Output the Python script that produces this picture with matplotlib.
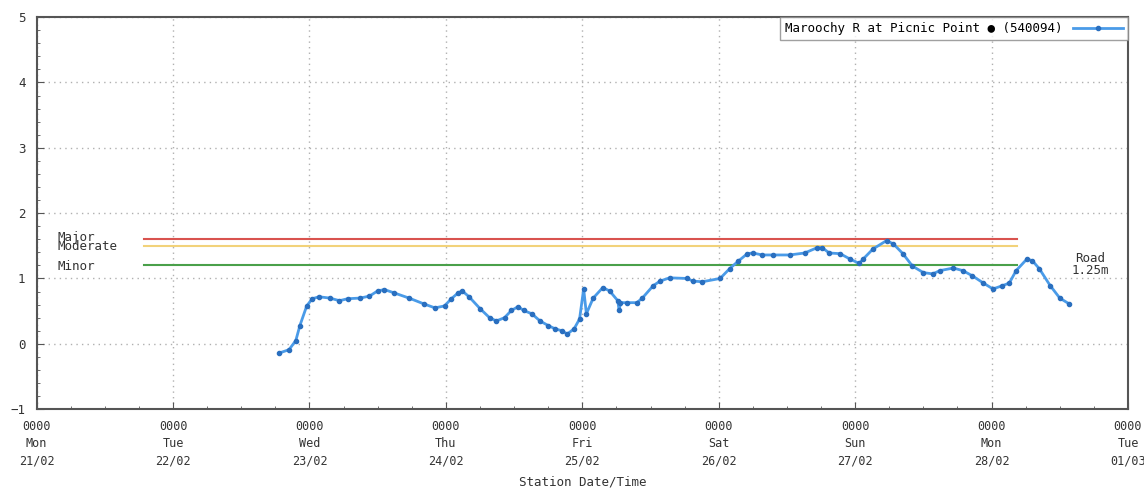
import matplotlib
matplotlib.use("Agg")
import matplotlib.pyplot as plt
from matplotlib.ticker import MultipleLocator

# days since 0000 Mon 21/02
days = [1.78, 1.85, 1.90, 1.93, 1.98, 2.02, 2.07, 2.15, 2.22, 2.28, 2.37, 2.44,
        2.50, 2.55, 2.62, 2.73, 2.84, 2.92, 2.99, 3.04, 3.09, 3.12, 3.17, 3.25,
        3.32, 3.37, 3.43, 3.48, 3.53, 3.57, 3.63, 3.69, 3.75, 3.80, 3.85, 3.89,
        3.94, 3.98, 4.01, 4.03, 4.08, 4.15, 4.20, 4.26, 4.27, 4.28, 4.33, 4.40,
        4.44, 4.52, 4.57, 4.64, 4.77, 4.81, 4.88, 5.01, 5.08, 5.14, 5.21, 5.25,
        5.32, 5.40, 5.52, 5.63, 5.72, 5.76, 5.81, 5.89, 5.96, 6.03, 6.06, 6.13,
        6.23, 6.28, 6.35, 6.42, 6.50, 6.57, 6.62, 6.72, 6.79, 6.86, 6.94, 7.01,
        7.08, 7.13, 7.18, 7.26, 7.30, 7.35, 7.43, 7.50, 7.57]
level = [-0.14, -0.09, 0.05, 0.28, 0.58, 0.69, 0.72, 0.70, 0.66, 0.69, 0.70, 0.73,
         0.81, 0.83, 0.78, 0.70, 0.61, 0.55, 0.58, 0.69, 0.78, 0.81, 0.72, 0.54,
         0.40, 0.35, 0.40, 0.51, 0.57, 0.51, 0.46, 0.35, 0.28, 0.23, 0.20, 0.15,
         0.23, 0.38, 0.84, 0.46, 0.70, 0.86, 0.81, 0.66, 0.51, 0.63, 0.63, 0.63,
         0.70, 0.89, 0.96, 1.01, 1.00, 0.96, 0.95, 1.00, 1.15, 1.26, 1.38, 1.39,
         1.36, 1.36, 1.36, 1.39, 1.47, 1.47, 1.39, 1.38, 1.30, 1.23, 1.30, 1.45,
         1.58, 1.53, 1.38, 1.19, 1.09, 1.07, 1.12, 1.16, 1.12, 1.04, 0.93, 0.84,
         0.89, 0.93, 1.12, 1.30, 1.27, 1.15, 0.89, 0.70, 0.61]

tick_labels = ["0000\nMon\n21/02", "0000\nTue\n22/02", "0000\nWed\n23/02",
               "0000\nThu\n24/02", "0000\nFri\n25/02", "0000\nSat\n26/02",
               "0000\nSun\n27/02", "0000\nMon\n28/02", "0000\nTue\n01/03"]

flood_names = ["Major", "Moderate", "Minor"]
flood_levels = [1.6, 1.5, 1.2]
flood_colors = ["#d9534f", "#f2d27a", "#4aa04a"]
flood_start, flood_end = 0.79, 7.19

mono = "DejaVu Sans Mono"
txt = "#333333"

fig = plt.figure(figsize=(11.44, 4.9), dpi=100)
ax = fig.add_axes([0.032, 0.165, 0.954, 0.8])

for name, lvl, col in zip(flood_names, flood_levels, flood_colors):
    ax.plot([flood_start, flood_end], [lvl, lvl], color=col, linewidth=1.5, zorder=2)

ax.text(0.15, 1.62, "Major", family=mono, fontsize=9, color=txt, va="center")
ax.text(0.15, 1.49, "Moderate", family=mono, fontsize=9, color=txt, va="center")
ax.text(0.15, 1.19, "Minor", family=mono, fontsize=9, color=txt, va="center")
ax.text(7.72, 1.30, "Road", family=mono, fontsize=9, color=txt, ha="center", va="center")
ax.text(7.72, 1.12, "1.25m", family=mono, fontsize=9, color=txt, ha="center", va="center")

ax.plot(days, level, color="#4a9be8", linewidth=2, marker="o", markersize=3,
        markerfacecolor="#2a6fbf", markeredgecolor="#2a6fbf",
        label="Maroochy R at Picnic Point \u25cf (540094)", zorder=3)

ax.set_xlim(0, 8)
ax.set_ylim(-1, 5)
ax.set_xticks(range(9))
ax.set_xticklabels(tick_labels, family=mono, fontsize=8.5, color=txt, linespacing=1.4)
ax.xaxis.set_minor_locator(MultipleLocator(0.25))
ax.yaxis.set_major_locator(MultipleLocator(1))
ax.yaxis.set_minor_locator(MultipleLocator(0.2))
for lab in ax.get_yticklabels():
    lab.set_family(mono)
    lab.set_fontsize(9)
    lab.set_color(txt)
ax.tick_params(which="both", direction="in", color="#555555")
ax.tick_params(which="major", length=5, pad=8)
ax.tick_params(which="minor", length=2.5)
ax.grid(True, which="major", linestyle=(0, (1, 3)), color="#b0b0b0", linewidth=1)
for s in ax.spines.values():
    s.set_color("#555555")
    s.set_linewidth(1.5)

ax.set_xlabel("Station Date/Time", family=mono, fontsize=9, color=txt, labelpad=6)

leg = ax.legend(loc="upper right", prop={"family": mono, "size": 9},
                frameon=True, fancybox=False, borderaxespad=0, handlelength=4,
                markerfirst=False)
leg.get_frame().set_edgecolor("#888888")
leg.get_frame().set_linewidth(1)

fig.savefig("out.png", dpi=100)
